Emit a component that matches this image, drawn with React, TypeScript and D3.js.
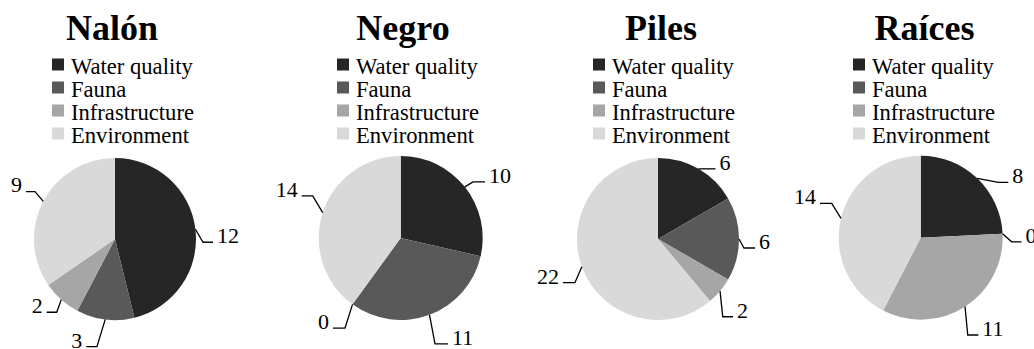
import React from "react";
import * as d3 from "d3";

const categories = ["Water quality", "Fauna", "Infrastructure", "Environment"];
const colors = ["#262626", "#595959", "#a6a6a6", "#d9d9d9"];

const rivers = ["Nalón", "Negro", "Piles", "Raíces"];
const nalonValues = [12, 3, 2, 9];
const negroValues = [10, 11, 0, 14];
const pilesValues = [6, 6, 2, 22];
const raicesValues = [8, 0, 11, 14];
const seriesValues = [nalonValues, negroValues, pilesValues, raicesValues];

// layout: pie center, title center, legend left
const panelLayout = [
  { cx: 115, cy: 239, r: 81, titleX: 112, legendX: 52 },
  { cx: 400.7, cy: 238, r: 82, titleX: 403, legendX: 337 },
  { cx: 658, cy: 239, r: 81, titleX: 661, legendX: 593 },
  { cx: 920.7, cy: 237.7, r: 82, titleX: 924.5, legendX: 853 },
];

// leader line layout per label: elbow offset from slice edge point, horizontal length (signed)
const leaderLayout = [
  [
    { bx: 7.6, by: 13, h: 10 },
    { bx: -8.3, by: 27.3, h: -10.7 },
    { bx: -4.6, by: 12.6, h: -10 },
    { bx: -8.3, by: -9.7, h: -9 },
  ],
  [
    { bx: 8.2, by: -4.9, h: 12 },
    { bx: 5.5, by: 29.2, h: 13 },
    { bx: -7.5, by: 23.7, h: -12 },
    { bx: -10, by: -16.7, h: -11 },
  ],
  [
    { bx: 5, by: 0, h: 12 },
    { bx: 5, by: 9, h: 11 },
    { bx: 2.7, by: 25.7, h: 10.3 },
    { bx: -7, by: 16, h: -12 },
  ],
  [
    { bx: 21, by: 4, h: 10 },
    { bx: 9, by: 8, h: 10 },
    { bx: 2.7, by: 28.3, h: 10.6 },
    { bx: -9.3, by: -15, h: -11.7 },
  ],
];

const FONT = "'Liberation Serif', 'Times New Roman', serif";

function Panel({ idx }: { idx: number }) {
  const values = seriesValues[idx];
  const L = panelLayout[idx];
  const pie = d3.pie<number>().sort(null).value((d) => d).startAngle(0).endAngle(2 * Math.PI);
  const arcs = pie(values);
  const arc = d3.arc<d3.PieArcDatum<number>>().innerRadius(0).outerRadius(L.r);
  const edge = d3.arc<d3.PieArcDatum<number>>().innerRadius(L.r).outerRadius(L.r);
  return (
    <g>
      <text x={L.titleX} y={40} textAnchor="middle" fontFamily={FONT} fontWeight="bold" fontSize={36} fill="#000">
        {rivers[idx]}
      </text>
      {categories.map((c, i) => {
        const base = 74 + i * 23;
        return (
          <g key={c}>
            <rect x={L.legendX} y={base - 15.5} width={12} height={12} fill={colors[i]} />
            <text x={L.legendX + 19} y={base} fontFamily={FONT} fontSize={22.6} fill="#000">
              {c}
            </text>
          </g>
        );
      })}
      <g transform={`translate(${L.cx},${L.cy})`}>
        {arcs.map((a, i) => (
          <path key={i} d={arc(a) || ""} fill={colors[i]} />
        ))}
        {arcs.map((a, i) => {
          const [ex, ey] = edge.centroid(a);
          const ll = leaderLayout[idx][i];
          const bx = ex + ll.bx;
          const by = ey + ll.by;
          const endX = bx + ll.h;
          const sign = ll.h >= 0 ? 1 : -1;
          return (
            <g key={"l" + i}>
              <polyline
                points={`${ex},${ey} ${bx},${by} ${endX},${by}`}
                fill="none"
                stroke="#000"
                strokeWidth={1.3}
              />
              <text
                x={endX + sign * 4}
                y={by + 0.8}
                textAnchor={sign > 0 ? "start" : "end"}
                fontFamily={FONT}
                fontSize={22}
                fill="#000"
              >
                {values[i]}
              </text>
            </g>
          );
        })}
      </g>
    </g>
  );
}

export default function App() {
  return (
    <svg
      width={1034}
      height={349}
      style={{ position: "absolute", left: 0, top: 0, background: "#fff" }}
    >
      <rect width={1034} height={349} fill="#fff" />
      {rivers.map((r, i) => (
        <Panel key={r} idx={i} />
      ))}
    </svg>
  );
}
